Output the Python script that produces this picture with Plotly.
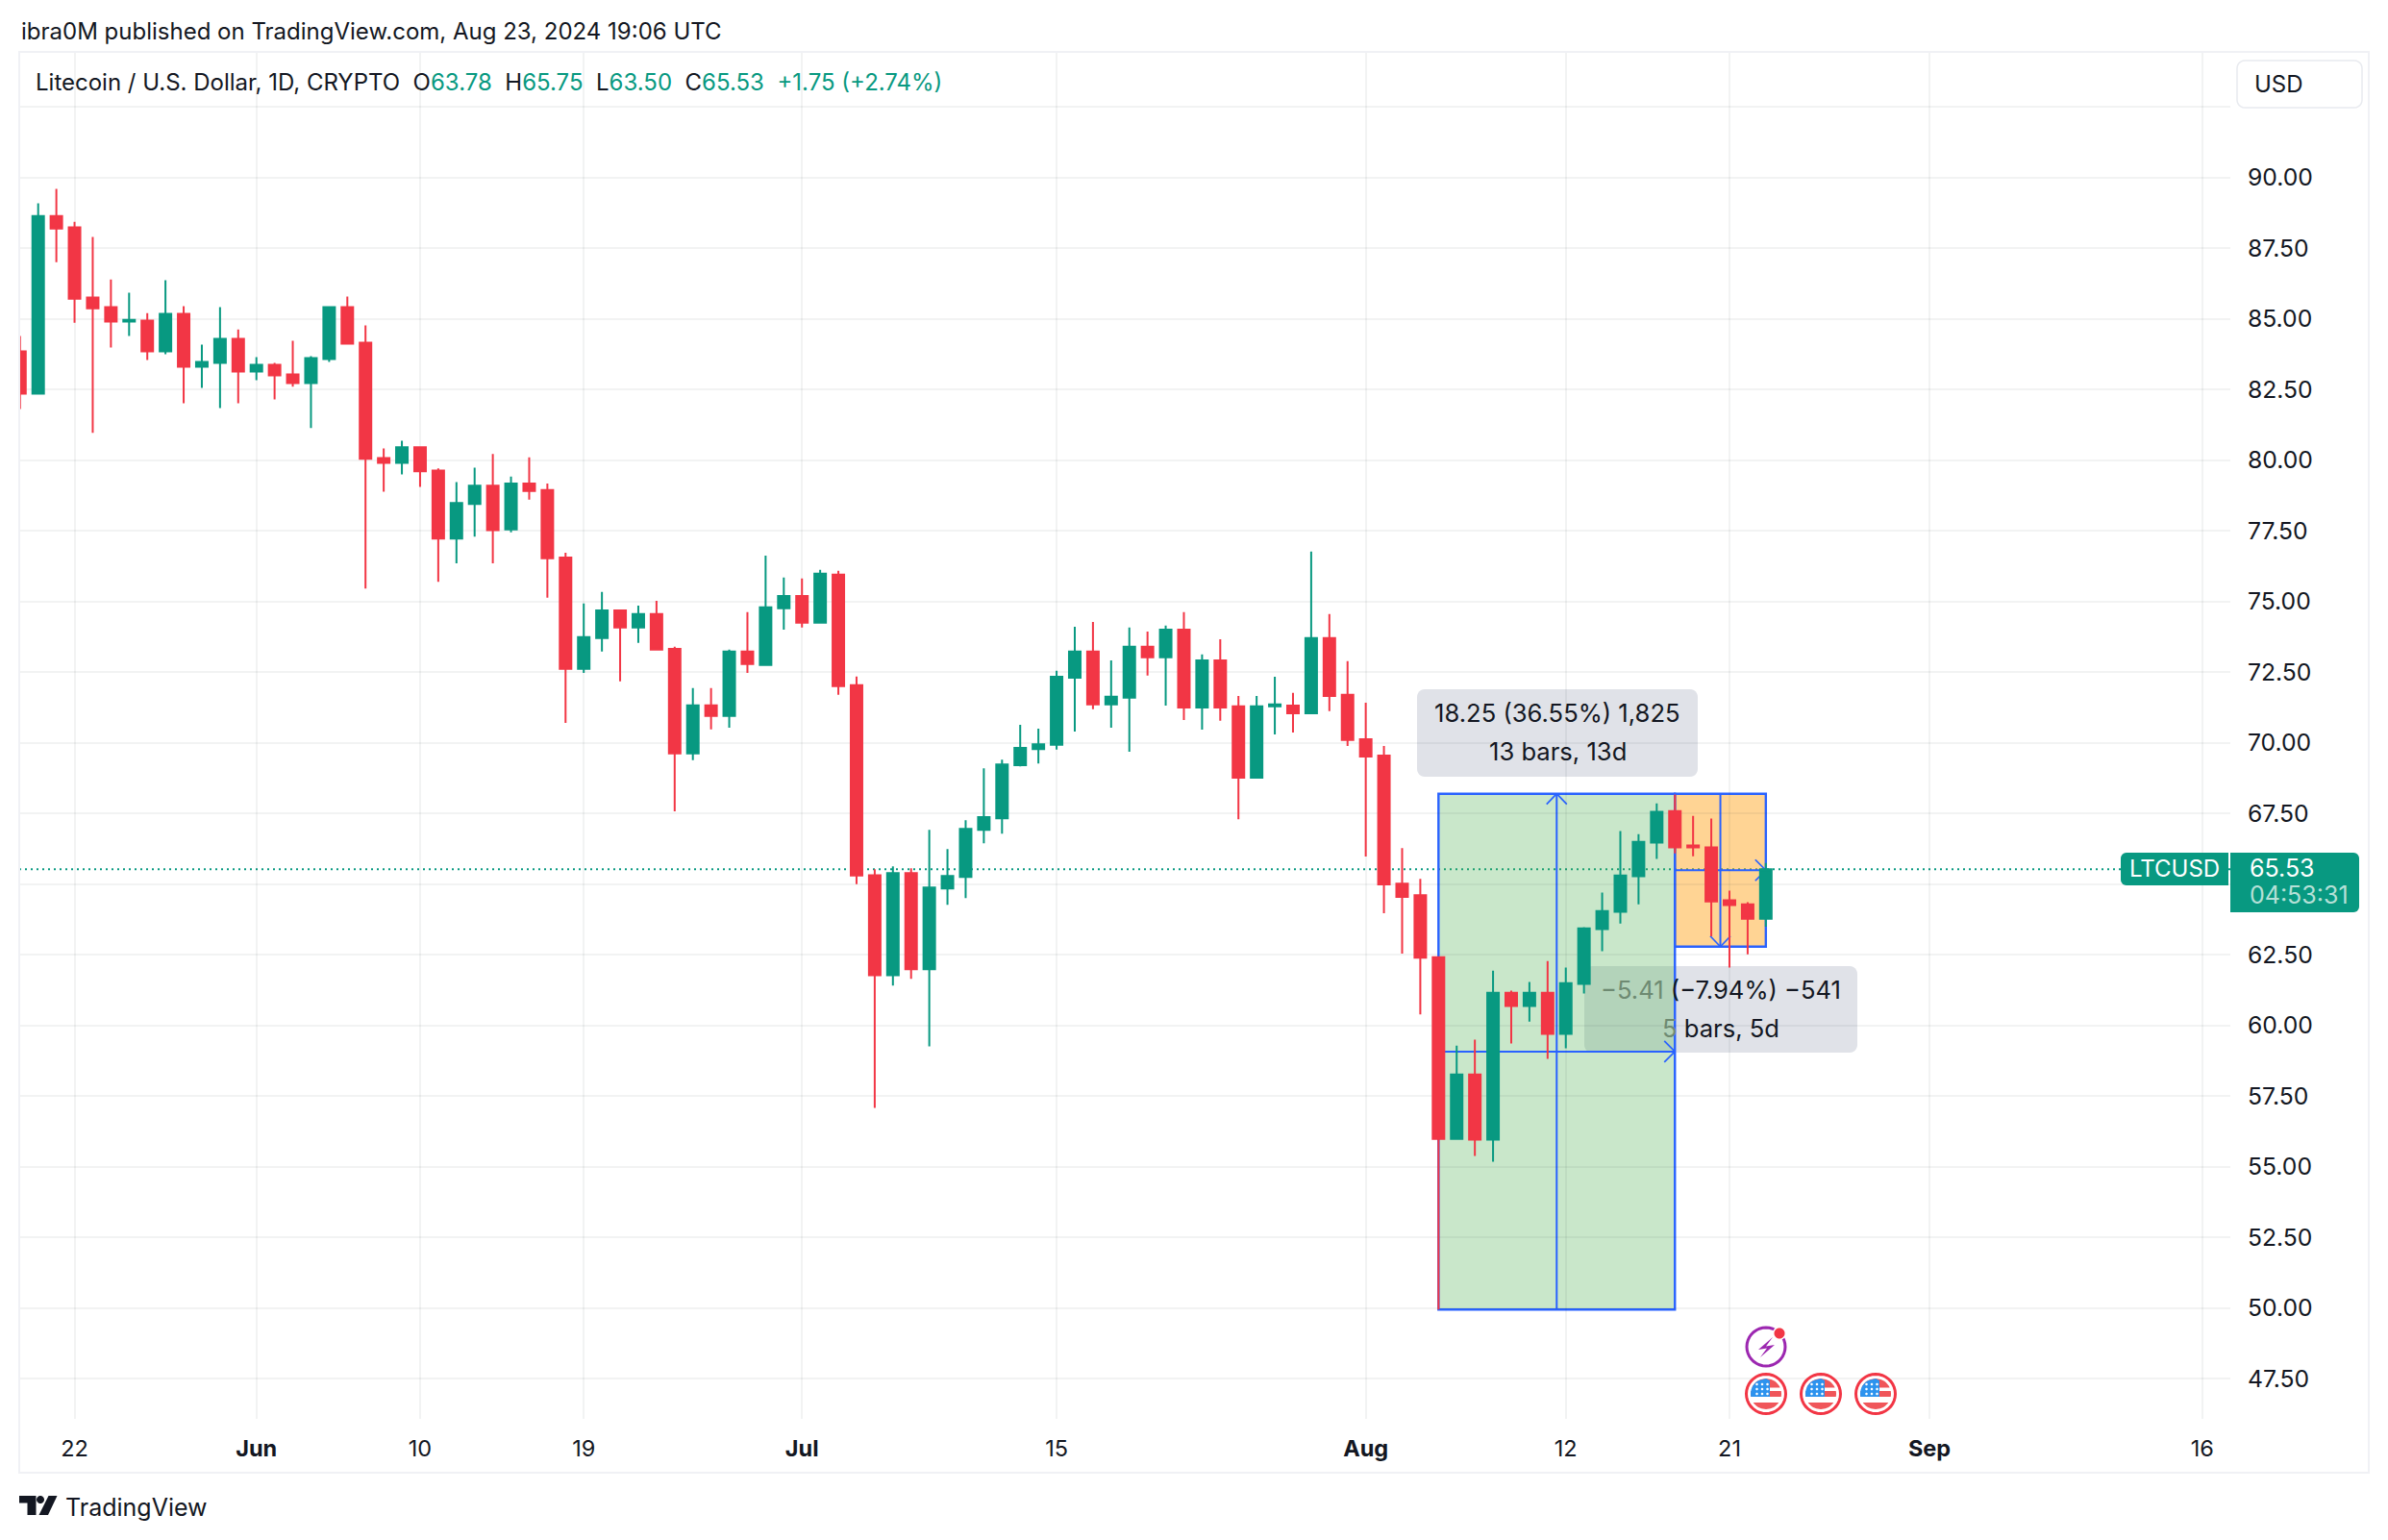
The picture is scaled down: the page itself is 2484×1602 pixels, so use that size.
import math
import pandas as pd
import plotly.graph_objects as go

# ---------- data ----------
first_day = "2024-05-19"
opens = [83.85,82.36,88.64,88.24,85.76,85.42,84.91,84.94,83.85,85.18,83.31,83.45,84.30,83.14,83.38,83.04,82.73,83.58,85.42,84.16,
         80.08,79.91,80.46,79.64,77.23,78.45,79.10,77.55,79.18,78.95,76.56,72.62,73.71,74.69,74.08,74.56,73.33,69.63,71.33,70.95,
         73.23,72.76,74.76,75.20,74.25,75.95,72.04,65.32,61.78,65.39,61.99,64.85,65.26,66.92,67.33,69.21,69.78,69.93,72.31,73.23,
         71.36,71.60,73.40,73.03,74.01,71.25,72.92,71.29,68.77,71.29,71.32,71.05,73.71,71.70,70.13,69.55,65.02,64.61,62.42,55.99,
         58.27,55.96,61.16,60.69,61.16,59.70,61.47,63.41,64.02,65.28,66.47,67.59,66.37,66.30,64.43,64.29,63.78]
highs = [84.40,89.09,89.60,88.44,87.90,86.40,85.93,85.21,86.37,85.45,84.09,85.42,84.63,83.65,83.45,84.23,83.68,85.45,85.79,84.77,
         80.42,80.69,80.49,79.71,79.23,79.74,80.22,79.42,80.10,79.18,76.73,74.93,75.34,74.69,74.86,75.03,73.40,71.94,71.94,73.30,
         74.63,76.63,75.85,75.82,76.12,76.09,72.35,65.53,65.63,65.56,66.92,66.24,67.26,69.10,69.41,70.64,70.50,72.55,74.11,74.28,
         72.92,74.08,73.94,74.15,74.63,73.13,73.67,71.66,71.66,72.34,71.77,76.77,74.56,72.89,71.42,69.89,66.28,65.19,62.42,59.29,
         59.50,61.94,61.23,61.54,62.28,62.05,63.48,64.70,66.88,66.77,67.86,68.17,67.42,67.32,64.77,64.36,65.75]
lows = [81.81,82.36,87.01,84.87,80.97,83.99,84.40,83.55,83.75,82.02,82.56,81.85,82.02,82.83,82.15,82.60,81.14,83.48,84.13,75.46,
        78.89,79.50,79.06,75.70,76.35,77.30,76.35,77.45,78.61,75.14,70.71,72.48,73.23,72.18,73.54,73.30,67.58,69.39,70.48,70.54,
        72.48,72.76,74.01,74.08,74.22,71.70,65.00,57.08,61.41,61.65,59.26,64.27,64.51,66.45,66.79,69.17,69.27,69.76,70.40,71.19,
        70.54,69.69,72.38,71.32,70.81,70.47,70.78,67.30,68.77,70.30,70.37,71.05,71.12,69.89,65.98,63.97,62.54,60.39,49.95,55.99,
        55.38,55.18,59.36,60.14,58.82,59.19,61.13,62.63,63.61,64.29,65.89,66.09,65.99,63.16,62.05,62.52,63.50]
closes = [82.36,88.64,88.20,85.72,85.38,84.91,84.97,83.85,85.18,83.31,83.48,84.30,83.14,83.38,83.00,82.73,83.62,85.42,84.13,80.05,
          79.91,80.46,79.61,77.23,78.49,79.10,77.53,79.18,78.91,76.53,72.62,73.74,74.69,74.08,74.56,73.30,69.63,71.33,70.95,73.23,
          72.79,74.80,75.20,74.25,75.99,72.01,65.31,61.78,65.39,61.99,64.88,65.29,66.96,67.37,69.24,69.82,69.95,72.34,73.23,71.36,
          71.63,73.40,73.03,74.01,71.25,72.92,71.25,68.77,71.29,71.36,71.05,73.71,71.66,70.10,69.52,64.99,64.55,62.40,55.99,58.27,
          55.96,61.16,60.69,61.16,59.70,61.50,63.44,64.05,65.31,66.50,67.56,66.30,66.30,64.39,64.26,63.78,65.53]
dates = pd.date_range(first_day, periods=len(opens), freq="D")

price_ticks = [47.5,50,52.5,55,57.5,60,62.5,65,67.5,70,72.5,75,77.5,80,82.5,85,87.5,90,92.5]
price_text = ["47.50","50.00","52.50","55.00","57.50","60.00","62.50","","67.50","70.00","72.50","75.00","77.50","80.00","82.50","85.00","87.50","90.00",""]
date_ticks = ["2024-05-22","2024-06-01","2024-06-10","2024-06-19","2024-07-01","2024-07-15","2024-08-01","2024-08-12","2024-08-21","2024-09-01","2024-09-16"]
date_text = ["22","<b>Jun</b>","10","19","<b>Jul</b>","15","<b>Aug</b>","12","21","<b>Sep</b>","16"]

last_price = 65.53
long_start, long_end, short_end = "2024-08-05", "2024-08-18", "2024-08-23"
box_top, long_bottom, short_bottom = 68.20, 49.95, 62.79

UP, DOWN, INK, GRID, BLUE = "#089981", "#F23645", "#131722", "rgba(42,46,57,0.06)", "#2962FF"
FONT = "Inter"

# ---------- page geometry helpers ----------
W, H = 2484, 1602
PL, PR, PT, PB = 20, 2320, 54, 1476
xp = lambda px: (px - PL) / (PR - PL)
yp = lambda py: (PB - py) / (PB - PT)
DAY_PX, UNIT_PX = 18.92, 29.395

def path(points, close=True):
    s = "M" + " L".join(f"{xp(x):.6f},{yp(y):.6f}" for x, y in points)
    return s + (" Z" if close else "")

def round_rect(x0, y0, x1, y1, r=6, corners=(1, 1, 1, 1), n=6):
    pts = []
    cs = [(x0 + r, y0 + r, 180, corners[0]), (x1 - r, y0 + r, 270, corners[1]),
          (x1 - r, y1 - r, 0, corners[2]), (x0 + r, y1 - r, 90, corners[3])]
    for i, (cx, cy, a0, on) in enumerate(cs):
        if on:
            for k in range(n + 1):
                a = math.radians(a0 + 90 * k / n)
                pts.append((cx + r * math.cos(a), cy + r * math.sin(a)))
        else:
            pts.append(((x0, y0), (x1, y0), (x1, y1), (x0, y1))[i])
    return path(pts)

def paper_shape(d, fill, line=None, lw=0, layer="above"):
    return dict(type="path", xref="paper", yref="paper", path=d, fillcolor=fill, layer=layer,
                line=dict(color=line or "rgba(0,0,0,0)", width=lw))

def circle_path(cx, cy, r, n=36):
    return path([(cx + r * math.cos(2 * math.pi * i / n), cy + r * math.sin(2 * math.pi * i / n)) for i in range(n)])

def flag_band(cx, cy, r, y0, y1, xmin=None, xmax=None, n=10):
    left, right = [], []
    for i in range(n + 1):
        y = y0 + (y1 - y0) * i / n
        half = math.sqrt(max(r * r - y * y, 0))
        a = -half if xmin is None else max(-half, xmin)
        b = half if xmax is None else min(half, xmax)
        if xmax is not None and xmax < -half:
            b = a
        left.append((cx + a, cy + y))
        right.append((cx + b, cy + y))
    return path(left + right[::-1])

def shift(day, days=0.0):
    return (pd.Timestamp(day) + pd.Timedelta(days=days)).strftime("%Y-%m-%d %H:%M")

def dline(x0, y0, x1, y1, width=2):
    return dict(type="line", xref="x", yref="y", x0=x0, y0=y0, x1=x1, y1=y1, layer="below",
                line=dict(color=BLUE, width=width))

def arrow_v(x, y_tip, direction):
    dx, dy = 10.5 / DAY_PX, 11 / UNIT_PX
    return [dline(shift(x, -dx), y_tip - direction * dy, x, y_tip, 1.7),
            dline(shift(x, dx), y_tip - direction * dy, x, y_tip, 1.7)]

def arrow_h(x, y):
    dx, dy = 11 / DAY_PX, 11 / UNIT_PX
    return [dline(shift(x, -dx), y + dy, x, y, 1.7), dline(shift(x, -dx), y - dy, x, y, 1.7)]

# ---------- figure ----------
fig = go.Figure(go.Candlestick(
    x=dates, open=opens, high=highs, low=lows, close=closes,
    increasing=dict(line=dict(color=UP, width=2), fillcolor=UP),
    decreasing=dict(line=dict(color=DOWN, width=2), fillcolor=DOWN),
    whiskerwidth=0, hoverinfo="skip", showlegend=False))

shapes = []
# measure labels sit under the position boxes
shapes.append(paper_shape(round_rect(1474, 717, 1766, 808, 8), "rgba(209,212,220,0.67)", layer="below"))
shapes.append(paper_shape(round_rect(1648, 1005, 1932, 1095, 8), "rgba(209,212,220,0.67)", layer="below"))
# long / short boxes
shapes.append(dict(type="rect", xref="x", yref="y", x0=long_start, x1=long_end, y0=long_bottom, y1=box_top,
                   fillcolor="rgba(76,175,80,0.3)", line=dict(color=BLUE, width=2.4), layer="below"))
shapes.append(dict(type="rect", xref="x", yref="y", x0=long_end, x1=short_end, y0=short_bottom, y1=box_top,
                   fillcolor="rgba(255,152,0,0.42)", line=dict(color=BLUE, width=2.4), layer="below"))
long_mid = shift(long_start, 6.5)
short_mid = shift(long_end, 2.5)
long_y = (box_top + long_bottom) / 2
short_y = (box_top + short_bottom) / 2
shapes += [dline(long_mid, long_bottom, long_mid, box_top), dline(long_start, long_y, long_end, long_y),
           dline(short_mid, short_bottom, short_mid, box_top), dline(long_end, short_y, short_end, short_y)]
shapes += arrow_v(long_mid, box_top, 1) + arrow_h(long_end, long_y)
shapes += arrow_v(short_mid, short_bottom, -1) + arrow_h(short_end, short_y)
# last price line
shapes.append(dict(type="line", xref="paper", yref="y", x0=0, x1=1, y0=last_price, y1=last_price, layer="below",
                   line=dict(color=UP, width=2, dash="2px,4px")))
# chart frame
shapes.append(dict(type="rect", xref="paper", yref="paper", x0=xp(20), x1=xp(2464), y0=yp(1532), y1=yp(54),
                   line=dict(color="#F0F1F5", width=2), fillcolor="rgba(0,0,0,0)", layer="above"))
# currency button
shapes.append(paper_shape(round_rect(2327, 63, 2457, 112, 8), "#FFFFFF", "#E8EAEF", 1.5))
# last price tags
shapes.append(paper_shape(round_rect(2206, 887, 2318, 921, 6, (1, 0, 0, 1)), UP))
shapes.append(paper_shape(round_rect(2320, 887, 2454, 949, 6, (0, 1, 1, 0)), UP))
# event icons
ex = 1837
shapes.append(paper_shape(circle_path(ex, 1401, 20), "#FFFFFF", "#9C27B0", 3))
shapes.append(paper_shape(path([(ex + a, 1401 + b) for a, b in [(7, -10), (-8, 3), (1, 1.5), (-6, 11), (9, -2), (0, -0.5)]]), "#9C27B0"))
shapes.append(paper_shape(circle_path(ex + 14, 1387, 7), "#FFFFFF"))
shapes.append(paper_shape(circle_path(ex + 14, 1387, 5.5), DOWN))
for cx in (1837, 1894, 1951):
    cy = 1450
    shapes.append(paper_shape(circle_path(cx, cy, 20.5), "#FFFFFF", DOWN, 3))
    for y0, y1 in [(-16, -6.5), (-3, 3), (9, 16)]:
        shapes.append(paper_shape(flag_band(cx, cy, 16, y0, y1), "#F0565A"))
    shapes.append(paper_shape(flag_band(cx, cy, 16, -16, 3, xmax=4), "#2D93EE"))
    for ry in (-10, -5, 0):
        for rx in (-9.5, -4, 1.5):
            shapes.append(paper_shape(circle_path(cx + rx, cy + ry, 1.3, 10), "#FFFFFF"))
# brand mark
shapes.append(paper_shape(path([(20, 1556), (37.5, 1556), (37.5, 1576), (28.5, 1576), (28.5, 1563.5), (20, 1563.5)]), INK))
shapes.append(paper_shape(circle_path(42, 1560, 4), INK))
shapes.append(paper_shape(path([(50.5, 1556), (59.5, 1556), (50, 1576), (40.5, 1576)]), INK))

def label(px, py, text, size=24, color=INK, anchor="left"):
    return dict(xref="paper", yref="paper", x=xp(px), y=yp(py), text=text, showarrow=False, xanchor=anchor,
                yanchor="middle", align=anchor, font=dict(family=FONT, size=size, color=color))

G = lambda s: f'<span style="color:{UP}">{s}</span>'
FADE = lambda s: f'<span style="color:#6E8A72">{s}</span>'
legend = ("Litecoin / U.S. Dollar, 1D, CRYPTO  O" + G("63.78") + "  H" + G("65.75") + "  L" + G("63.50") + "  C" + G("65.53")
          + "  " + G("+1.75 (+2.74%)"))
annotations = [
    label(20, 32, "ibra0M published on TradingView.com, Aug 23, 2024 19:06 UTC"),
    label(35, 85.5, legend),
    label(2371, 87, "USD", anchor="center"),
    label(1620, 741.5, "18.25 (36.55%) 1,825", size=25.6, anchor="center"),
    label(1620, 781.5, "13 bars, 13d", size=25.6, anchor="center"),
    label(1790, 1029.5, FADE("−5.41") + " (−7.94%) −541", size=25.6, anchor="center"),
    label(1790, 1069.5, FADE("5") + " bars, 5d", size=25.6, anchor="center"),
    label(2262, 904, "LTCUSD", color="#FFFFFF", anchor="center"),
    label(2338, 903, "65.53", color="#FFFFFF", size=25),
    label(2338, 931, "04:53:31", color="#B5E0D7", size=25),
    label(66, 1568, "TradingView", size=25),
]

fig.update_layout(
    width=W, height=H, autosize=False, paper_bgcolor="#FFFFFF", plot_bgcolor="#FFFFFF",
    margin=dict(l=PL, r=W - PR, t=PT, b=H - PB, pad=0), showlegend=False, shapes=shapes, annotations=annotations,
    font=dict(family=FONT, size=24, color=INK), boxgap=0.366, boxgroupgap=0, dragmode=False,
    xaxis=dict(type="date", range=["2024-05-18 23:00", "2024-09-17 13:00"], rangeslider=dict(visible=False),
               tickmode="array", tickvals=date_ticks, ticktext=date_text, showgrid=True, gridcolor=GRID, gridwidth=2,
               zeroline=False, showline=False, ticks="", tickfont=dict(family=FONT, size=23.5, color=INK), ticklabelstandoff=14),
    yaxis=dict(side="right", range=[46.08, 94.45], tickmode="array", tickvals=price_ticks, ticktext=price_text,
               showgrid=True, gridcolor=GRID, gridwidth=2, zeroline=False, showline=False, ticks="",
               tickfont=dict(family=FONT, size=24.7, color=INK), ticklabelstandoff=17),
)

fig.write_html("out.html", config={"displayModeBar": False}, post_script="document.body.style.margin='0';")
